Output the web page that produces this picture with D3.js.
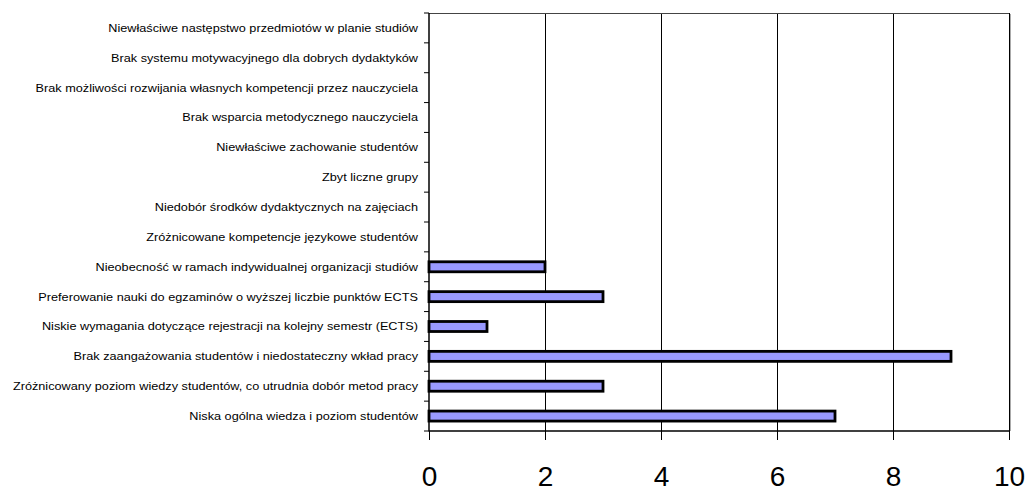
<!DOCTYPE html>
<html>
<head>
<meta charset="utf-8">
<script src="https://cdn.jsdelivr.net/npm/d3@7"></script>
<style>
  html, body { margin: 0; padding: 0; background: #fff; }
  svg { display: block; }
</style>
</head>
<body>
<svg id="chart" width="1029" height="488"></svg>
<script>
// Categories listed top to bottom
const categories = [
  "Niewłaściwe następstwo przedmiotów w planie studiów",
  "Brak systemu motywacyjnego dla dobrych dydaktyków",
  "Brak możliwości rozwijania własnych kompetencji przez nauczyciela",
  "Brak wsparcia metodycznego nauczyciela",
  "Niewłaściwe zachowanie studentów",
  "Zbyt liczne grupy",
  "Niedobór środków dydaktycznych na zajęciach",
  "Zróżnicowane kompetencje językowe studentów",
  "Nieobecność w ramach indywidualnej organizacji studiów",
  "Preferowanie nauki do egzaminów o wyższej liczbie punktów ECTS",
  "Niskie wymagania dotyczące rejestracji na kolejny semestr (ECTS)",
  "Brak zaangażowania studentów i niedostateczny wkład pracy",
  "Zróżnicowany poziom wiedzy studentów, co utrudnia dobór metod pracy",
  "Niska ogólna wiedza i poziom studentów"
];
const values = [0, 0, 0, 0, 0, 0, 0, 0, 2, 3, 1, 9, 3, 7];
const xTicks = [0, 2, 4, 6, 8, 10];

const svg = d3.select("#chart");
const plotL = 429, plotR = 1009, plotT = 13, plotB = 431;

const x = d3.scaleLinear().domain([0, 10]).range([plotL, plotR]);
const y = d3.scaleBand().domain(categories).range([plotT, plotB]);

// Vertical gridlines
svg.append("g")
  .selectAll("line")
  .data(xTicks.filter(t => t > 0 && t < 10))
  .join("line")
  .attr("x1", d => x(d) + 0.5).attr("x2", d => x(d) + 0.5)
  .attr("y1", plotT).attr("y2", plotB)
  .attr("stroke", "#000").attr("stroke-width", 1);

// Plot frame: top and right edges
svg.append("line")
  .attr("x1", plotL).attr("x2", plotR).attr("y1", plotT + 0.5).attr("y2", plotT + 0.5)
  .attr("stroke", "#444").attr("stroke-width", 1);
svg.append("line")
  .attr("x1", plotR + 1.5).attr("x2", plotR + 1.5).attr("y1", plotT + 1).attr("y2", plotB)
  .attr("stroke", "#aaa").attr("stroke-width", 1);
svg.append("line")
  .attr("x1", plotR + 0.5).attr("x2", plotR + 0.5).attr("y1", plotT).attr("y2", plotB)
  .attr("stroke", "#000").attr("stroke-width", 1);

// Bars
const barH = 10;
svg.append("g")
  .selectAll("rect")
  .data(categories.map((c, i) => ({ c, v: values[i] })).filter(d => d.v > 0))
  .join("rect")
  .attr("x", x(0))
  .attr("y", d => y(d.c) + y.bandwidth() / 2 - barH / 2)
  .attr("width", d => x(d.v) - x(0))
  .attr("height", barH)
  .attr("fill", "#9999ff")
  .attr("stroke", "#000")
  .attr("stroke-width", 2.8);

// Y axis with ticks at category boundaries
const yBounds = d3.range(categories.length + 1).map(i => plotT + i * y.step());
svg.append("g")
  .selectAll("line")
  .data(yBounds)
  .join("line")
  .attr("x1", plotL - 5).attr("x2", plotL)
  .attr("y1", d => d).attr("y2", d => d)
  .attr("stroke", "#000").attr("stroke-width", 1);
svg.append("line")
  .attr("x1", plotL).attr("x2", plotL).attr("y1", plotT).attr("y2", plotB + 0.5)
  .attr("stroke", "#000").attr("stroke-width", 1.5);

// Category labels, slightly widened horizontally
svg.append("g")
  .selectAll("text")
  .data(categories)
  .join("text")
  .attr("transform", d => `translate(${plotL - 11},${y(d) + y.bandwidth() / 2}) scale(1.155,1)`)
  .attr("dy", "0.35em")
  .attr("text-anchor", "end")
  .attr("font-family", "Liberation Sans, Arial, sans-serif")
  .attr("font-size", 11)
  .attr("fill", "#000")
  .text(d => d);

// X axis
const xAxis = d3.axisBottom(x).tickValues(xTicks).tickSize(9).tickPadding(26).tickFormat(d3.format("d"));
const gx = svg.append("g").attr("transform", `translate(0,${plotB})`).call(xAxis);
gx.select(".domain").attr("stroke", "#000").attr("stroke-width", 1.5).attr("d", `M${plotL},0H${plotR}`);
gx.selectAll(".tick line").attr("stroke", "#000");
gx.selectAll(".tick text")
  .attr("font-family", "Liberation Sans, Arial, sans-serif")
  .attr("font-size", 28)
  .attr("fill", "#000");
</script>
</body>
</html>
